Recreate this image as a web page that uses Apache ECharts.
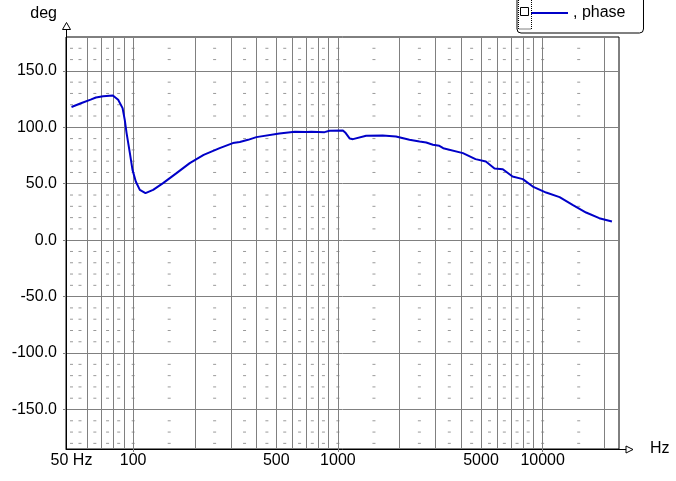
<!DOCTYPE html>
<html>
<head>
<meta charset="utf-8">
<script src="https://cdn.jsdelivr.net/npm/echarts@6/dist/echarts.min.js"></script>
<style>html,body{margin:0;padding:0;background:#fff}#chart{width:676px;height:481px}</style>
</head>
<body>
<div id="chart"></div>
<script>
// measured phase response (Hz, deg)
var freq = [50, 56, 62, 65.8, 71.4, 79.6, 84.5, 88.8, 91, 92.9, 96.4, 99.3, 103, 107.8, 114.9, 125.2, 140, 162.9, 189, 221, 264.6, 307, 331.8, 364, 400, 518, 616, 700, 714, 742, 861, 910, 1058, 1092, 1143, 1185, 1374, 1655, 1922, 2236, 2505, 2700, 2910, 3130, 3270, 4080, 4700, 5280, 5820, 6390, 7130, 8000, 8950, 10400, 12100, 14000, 16300, 18900, 21800];
var phase = [118, 121.5, 124.5, 126.4, 127.6, 128.2, 124.4, 117, 106.6, 94.9, 77.1, 62.3, 52, 44.6, 41.7, 44.6, 50.5, 59.4, 68.3, 75.6, 81.6, 86, 87, 88.9, 91.3, 94.5, 96, 95.8, 95.1, 96, 95.7, 96.9, 97.2, 94.9, 90, 89.5, 92.5, 92.7, 91.8, 88.9, 87.4, 86.5, 84.5, 83.6, 81.5, 77.1, 71.8, 69.7, 63.5, 62.9, 56.4, 54.1, 47.5, 42.2, 38.1, 31.3, 24.5, 19.5, 16.5];

var xLabelValues = [50, 100, 500, 1000, 5000, 10000];
var xGridValues = [60, 70, 80, 90, 100, 200, 300, 400, 500, 600, 700, 800, 900, 1000, 2000, 3000, 4000, 5000, 6000, 7000, 8000, 9000, 10000, 20000];
var xDecadeTicks = [100, 1000, 10000];
var yLabelValues = [-150, -100, -50, 0, 50, 100, 150];

// little grey dashes of the minor grid
var dashFreq = [50, 55, 65, 75, 85, 100, 150, 250, 350, 450, 550, 650, 750, 850, 1000, 1500, 2500, 3500, 4500, 5500, 6500, 7500, 8500, 10000, 15000];
var dashDeg = [170, 160, 140, 130, 120, 110, 90, 80, 70, 60, 40, 30, 20, 10, -10, -20, -30, -40, -60, -70, -80, -90, -110, -120, -130, -140, -160, -170, -180];

var lineData = [];
for (var i = 0; i < freq.length; i++) {
	lineData.push([freq[i], phase[i]]);
}
var dashData = [];
for (var a = 0; a < dashFreq.length; a++) {
	for (var b = 0; b < dashDeg.length; b++) {
		dashData.push([dashFreq[a], dashDeg[b]]);
	}
}

var myChart = echarts.init(document.getElementById('chart'));
var option = {
	animation: false,
	textStyle: { fontFamily: 'Liberation Sans, Arial, sans-serif', fontSize: 16, color: '#000' },
	grid: {
		left: 66, top: 37, right: 57, bottom: 32,
		show: true, borderColor: '#000', borderWidth: 1
	},
	legend: {
		data: [', phase'],
		left: 517, top: -10,
		padding: [15, 18, 12, 14],
		itemWidth: 37, itemHeight: 2, itemGap: 5,
		icon: 'path://M0,0 L37,0 L37,2 L0,2 Z',
		selectedMode: false,
		backgroundColor: '#fff',
		borderColor: '#000', borderWidth: 1, borderRadius: 4,
		textStyle: { fontFamily: 'Liberation Sans, Arial, sans-serif', fontSize: 16, color: '#000' }
	},
	xAxis: [{
		type: 'log', logBase: 10, min: 47, max: 23600,
		name: 'Hz', nameLocation: 'end', nameGap: 31,
		nameTextStyle: { fontSize: 16, align: 'left', verticalAlign: 'middle', padding: [0, 0, 3, 0] },
		axisLine: { onZero: false, lineStyle: { color: '#000', width: 1 } },
		axisTick: { show: false, customValues: xGridValues },
		axisLabel: {
			customValues: xLabelValues, margin: 4, fontSize: 16, color: '#000',
			formatter: function (v) { return v == 50 ? '50 Hz' : String(v); }
		},
		splitLine: { show: true, lineStyle: { color: '#808080', width: 1 } }
	}, {
		// only for the short ticks under the decades
		type: 'log', logBase: 10, min: 47, max: 23600, position: 'bottom',
		axisLine: { show: false, onZero: false },
		axisTick: { show: true, length: 3, customValues: xDecadeTicks, lineStyle: { color: '#808080' } },
		axisLabel: { show: false },
		splitLine: { show: false }
	}],
	yAxis: {
		type: 'value', min: -185, max: 180,
		name: 'deg', nameLocation: 'end', nameGap: 15,
		nameTextStyle: { fontSize: 16, align: 'right', verticalAlign: 'bottom', padding: [0, 9, 0, 0] },
		axisLine: { show: true, onZero: false, lineStyle: { color: '#000', width: 1 } },
		axisTick: { show: true, length: 3, customValues: yLabelValues, lineStyle: { color: '#808080' } },
		axisLabel: {
			customValues: yLabelValues, margin: 9, fontSize: 16, color: '#000',
			formatter: function (v) { return v.toFixed(1); }
		},
		splitLine: { show: true, lineStyle: { color: '#808080', width: 1 } }
	},
	series: [{
		name: 'minor',
		type: 'scatter',
		silent: true,
		symbol: 'rect',
		symbolSize: [3, 1],
		itemStyle: { color: '#808080' },
		data: dashData,
		z: 1
	}, {
		name: ', phase',
		type: 'line',
		showSymbol: false,
		smooth: false,
		color: '#0000c8',
		lineStyle: { color: '#0000c8', width: 2 },
		data: lineData,
		z: 3
	}],
	graphic: [
		{ type: 'line', shape: { x1: 66.5, y1: 37, x2: 66.5, y2: 29.5 }, style: { stroke: '#000', lineWidth: 1 } },
		{ type: 'polygon', shape: { points: [[66.5, 22.5], [62.5, 29.5], [70.5, 29.5]] }, style: { fill: '#fff', stroke: '#000', lineWidth: 1 } },
		{ type: 'line', shape: { x1: 619, y1: 449.5, x2: 626, y2: 449.5 }, style: { stroke: '#000', lineWidth: 1 } },
		{ type: 'polygon', shape: { points: [[633, 449.5], [626, 446], [626, 453]] }, style: { fill: '#fff', stroke: '#000', lineWidth: 1 } },
		{ type: 'rect', z: 100, shape: { x: 518.5, y: -1, width: 13, height: 30 }, style: { fill: 'none', stroke: '#000', lineWidth: 1, lineDash: [1, 1] } },
		{ type: 'rect', z: 100, shape: { x: 520.5, y: 7.5, width: 8, height: 8 }, style: { fill: '#fff', stroke: '#000', lineWidth: 1 } }
	]
};
myChart.setOption(option, true);
</script>
</body>
</html>
